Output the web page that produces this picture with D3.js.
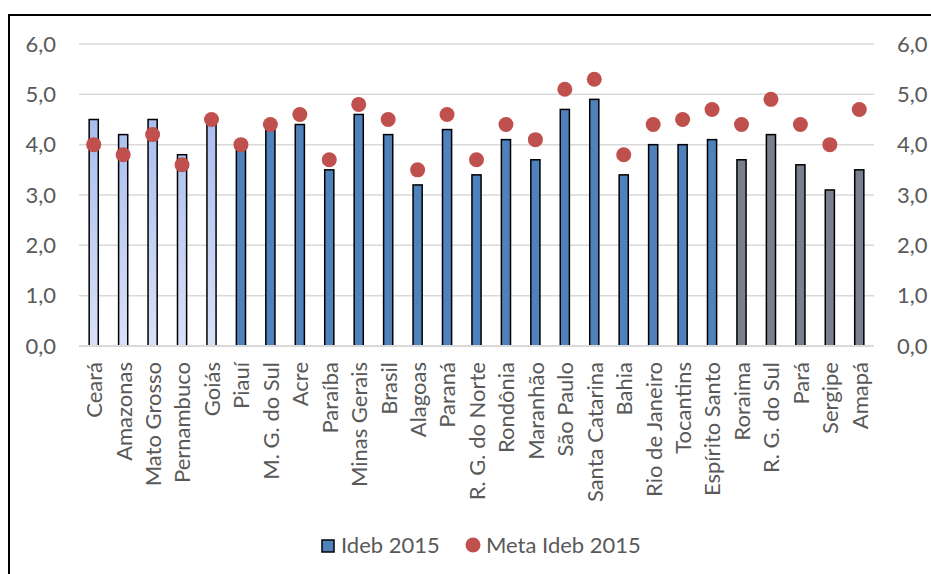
<!DOCTYPE html>
<html>
<head>
<meta charset="utf-8">
<script src="https://cdn.jsdelivr.net/npm/d3@7"></script>
<style>
  html, body { margin: 0; padding: 0; background: #fff; overflow: hidden; }
  svg { display: block; font-family: Lato, "Open Sans", sans-serif; }
</style>
</head>
<body>
<div id="chart"></div>
<script>
// Ideb 2015 vs meta, por estado
const categorias = ['Ceará', 'Amazonas', 'Mato Grosso', 'Pernambuco', 'Goiás', 'Piauí',
  'M. G. do Sul', 'Acre', 'Paraíba', 'Minas Gerais', 'Brasil', 'Alagoas', 'Paraná',
  'R. G. do Norte', 'Rondônia', 'Maranhão', 'São Paulo', 'Santa Catarina', 'Bahia',
  'Rio de Janeiro', 'Tocantins', 'Espírito Santo', 'Roraima', 'R. G. do Sul', 'Pará',
  'Sergipe', 'Amapá'];
const ideb2015 = [4.5, 4.2, 4.5, 3.8, 4.5, 4.0, 4.3, 4.4, 3.5, 4.6, 4.2, 3.2, 4.3,
  3.4, 4.1, 3.7, 4.7, 4.9, 3.4, 4.0, 4.0, 4.1, 3.7, 4.2, 3.6, 3.1, 3.5];
const meta2015 = [4.0, 3.8, 4.2, 3.6, 4.5, 4.0, 4.4, 4.6, 3.7, 4.8, 4.5, 3.5, 4.6,
  3.7, 4.4, 4.1, 5.1, 5.3, 3.8, 4.4, 4.5, 4.7, 4.4, 4.9, 4.4, 4.0, 4.7];
// grupo de cada barra (cor)
const grupos = ['A', 'A', 'A', 'A', 'A', 'B', 'B', 'B', 'B', 'B', 'B', 'B', 'B',
  'B', 'B', 'B', 'B', 'B', 'B', 'B', 'B', 'B', 'C', 'C', 'C', 'C', 'C'];
const yTicks = [0, 1, 2, 3, 4, 5, 6];
const legenda = ['Ideb 2015', 'Meta Ideb 2015'];

const W = 931, H = 574;
const P = { left: 79, right: 874, top: 44, bottom: 346 };
const TEXT = '#595959';
const FS = 22;
const fmt = v => d3.format('.1f')(v).replace('.', ',');

const data = categorias.map((c, i) => ({ c, v: ideb2015[i], m: meta2015[i], g: grupos[i] }));

const svg = d3.select('#chart').append('svg')
  .attr('width', W).attr('height', H);

const defs = svg.append('defs');
const grad = defs.append('linearGradient')
  .attr('id', 'gradA')
  .attr('gradientUnits', 'userSpaceOnUse')
  .attr('x1', 0).attr('x2', 0)
  .attr('y1', P.top + 60).attr('y2', P.bottom);
grad.append('stop').attr('offset', '0%').attr('stop-color', '#a6bbee');
grad.append('stop').attr('offset', '100%').attr('stop-color', '#d9e1f7');

const x = d3.scaleBand()
  .domain(categorias)
  .range([P.left, P.right])
  .paddingInner(0.69)
  .paddingOuter(0.345);

const y = d3.scaleLinear().domain([0, 6]).range([P.bottom, P.top]);

const cor = d3.scaleOrdinal()
  .domain(['A', 'B', 'C'])
  .range(['url(#gradA)', '#4f81bd', '#7a7f8f']);

// frame
svg.append('rect')
  .attr('x', 9).attr('y', 15)
  .attr('width', W + 20).attr('height', H + 20)
  .attr('fill', 'none').attr('stroke', '#000').attr('stroke-width', 2);

// grid
svg.append('g').selectAll('line')
  .data(yTicks.filter(t => t > 0))
  .join('line')
    .attr('x1', P.left).attr('x2', P.right)
    .attr('y1', d => y(d)).attr('y2', d => y(d))
    .attr('stroke', '#d9d9d9').attr('stroke-width', 1.5);

// left axis
const axL = svg.append('g')
  .attr('transform', `translate(${P.left},0)`)
  .call(d3.axisLeft(y).tickValues(yTicks).tickFormat(fmt).tickSize(0).tickPadding(23));
axL.select('.domain').remove();
axL.selectAll('text').attr('fill', TEXT).attr('font-size', FS).attr('font-family', 'Lato');

// right axis
const axR = svg.append('g')
  .attr('transform', `translate(${P.right},0)`)
  .call(d3.axisRight(y).tickValues(yTicks).tickFormat(fmt).tickSize(0).tickPadding(23));
axR.select('.domain').remove();
axR.selectAll('text').attr('fill', TEXT).attr('font-size', FS).attr('font-family', 'Lato');

// bars
svg.append('g').selectAll('rect')
  .data(data)
  .join('rect')
    .attr('x', d => x(d.c))
    .attr('y', d => y(d.v))
    .attr('width', x.bandwidth())
    .attr('height', d => y(0) - y(d.v))
    .attr('fill', d => cor(d.g))
    .attr('stroke', '#000')
    .attr('stroke-width', 1.5);

// baseline
svg.append('line')
  .attr('x1', P.left).attr('x2', P.right)
  .attr('y1', y(0)).attr('y2', y(0))
  .attr('stroke', '#d9d9d9').attr('stroke-width', 2);

// meta points
svg.append('g').selectAll('circle')
  .data(data)
  .join('circle')
    .attr('cx', d => x(d.c) + x.bandwidth() / 2)
    .attr('cy', d => y(d.m))
    .attr('r', 7.5)
    .attr('fill', '#c0504d');

// category labels
const axB = svg.append('g')
  .attr('transform', `translate(0,${P.bottom})`)
  .call(d3.axisBottom(x).tickSize(0).tickPadding(0));
axB.select('.domain').remove();
axB.selectAll('text')
  .attr('fill', TEXT)
  .attr('font-size', FS)
  .attr('font-family', 'Lato')
  .attr('text-anchor', 'end')
  .attr('transform', 'rotate(-90)')
  .attr('x', -16)
  .attr('y', 0)
  .attr('dy', '0.38em');

// legend
const lg = svg.append('g');
lg.append('rect')
  .attr('x', 322).attr('y', 540)
  .attr('width', 12).attr('height', 12)
  .attr('fill', '#4f81bd').attr('stroke', '#000').attr('stroke-width', 1.5);
lg.append('text')
  .attr('x', 341).attr('y', 553)
  .attr('fill', TEXT).attr('font-size', FS)
  .text(legenda[0]);
lg.append('circle')
  .attr('cx', 473).attr('cy', 545).attr('r', 7.5)
  .attr('fill', '#c0504d');
lg.append('text')
  .attr('x', 486).attr('y', 553)
  .attr('fill', TEXT).attr('font-size', FS)
  .text(legenda[1]);
</script>
</body>
</html>
